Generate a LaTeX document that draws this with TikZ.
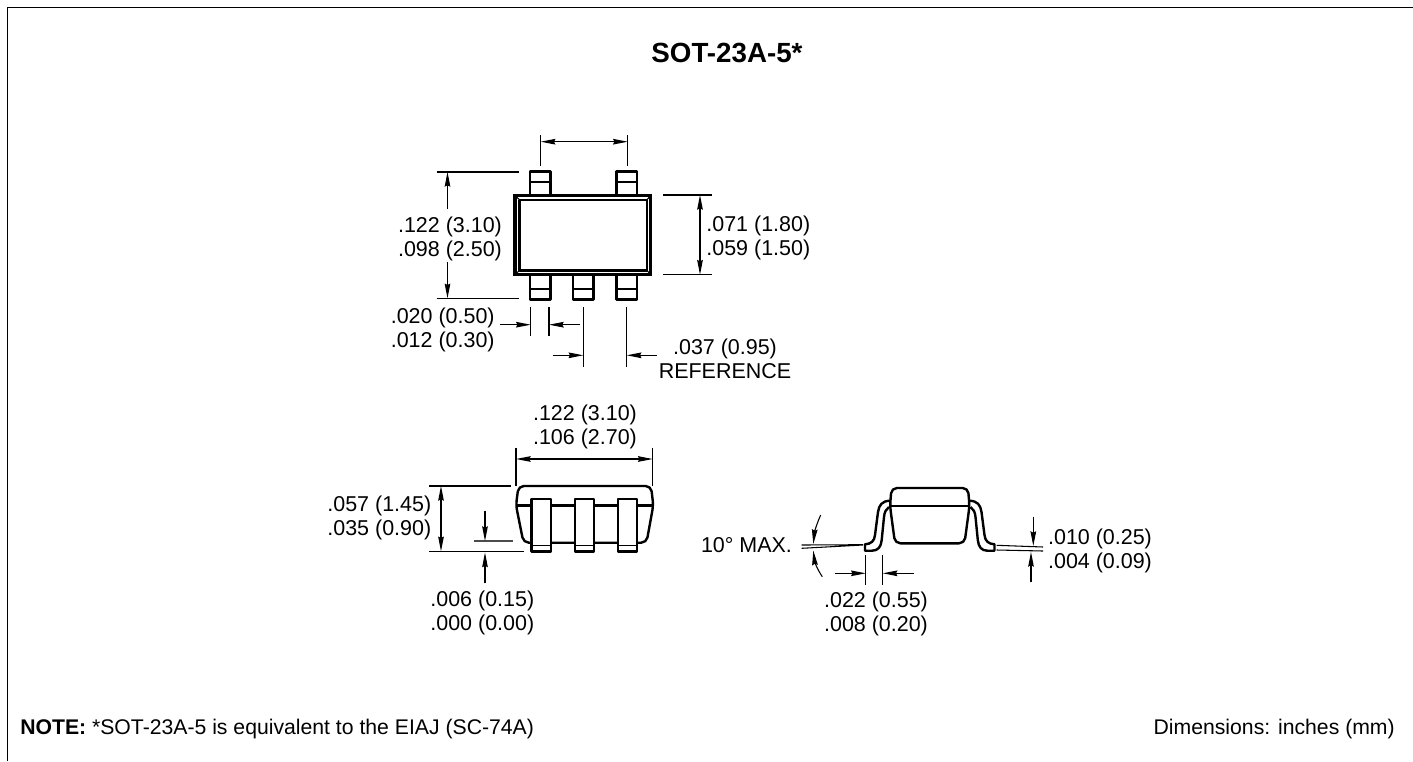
\documentclass[tikz,border=0pt]{standalone}
\usepackage{fontspec}
\setmainfont{Liberation Sans}
\usetikzlibrary{arrows.meta}
\tikzset{
  dimline/.style={line width=0.8pt},
  dimarrow/.style={line width=0.8pt,-{Stealth[length=11pt,width=4.2pt,inset=1pt]}},
  outline/.style={line width=1.8pt,line join=round},
  leadbox/.style={outline,fill=white},
  dimtext/.style={inner sep=0pt,align=center,font=\fontsize{16.1}{18}\selectfont},
}
\begin{document}
\begin{tikzpicture}[x=0.75pt,y=0.75pt,yscale=-1,xscale=1]
\path[use as bounding box] (0,0) rectangle (1413,761);

%Frame
\draw [line width=1.1pt] (7.5,761) -- (7.5,7.5) -- (1413,7.5);

%Titles
\node (title) at (727,53) [inner sep=0pt,font=\fontsize{20.8}{24}\selectfont\bfseries] {SOT-23A-5*};
\node (note) at (20,729) [anchor=west,inner sep=0pt,font=\fontsize{15.9}{18}\selectfont] {\textbf{NOTE:} *SOT-23A-5 is equivalent to the EIAJ (SC-74A)};
\node (units) at (1395,729) [anchor=east,inner sep=0pt,font=\fontsize{15.9}{18}\selectfont] {Dimensions: inches (mm)};

%Top view leads
\foreach \leadx in {530,616.5} {
  \draw [outline] (\leadx,194) -- (\leadx,171.5) -- (\leadx+20.5,171.5) -- (\leadx+20.5,194);
  \draw [outline] (\leadx,182) -- (\leadx+20.5,182);
}
\foreach \leadx in {530,573,616.5} {
  \draw [outline] (\leadx,276) -- (\leadx,299.5) -- (\leadx+20.5,299.5) -- (\leadx+20.5,276);
  \draw [outline] (\leadx,289) -- (\leadx+20.5,289);
}
%Top view body
\draw [line width=2.6pt] (515,195.5) rectangle (650.7,274.3);
\draw [outline] (519.5,199.7) rectangle (647,270.5);
\draw [dimline] (515,195.5) -- (519.5,199.7) (650.7,195.5) -- (647,199.7) (515,274.3) -- (519.5,270.5) (650.7,274.3) -- (647,270.5);

%Top view dimensions
\draw [dimline] (540.7,135) -- (540.7,166) (627.7,135) -- (627.7,166);
\draw [dimarrow] (584,141.7) -- (540.7,141.7);
\draw [dimarrow] (584,141.7) -- (627.7,141.7);
\draw [dimline] (436.7,172) -- (518.7,172) (436.7,298.3) -- (518.7,298.3);
\draw [dimarrow] (447.5,209) -- (447.5,172);
\draw [dimarrow] (447.5,261.5) -- (447.5,298.3);
\node (toplen) at (450,238.7) [dimtext] {.122 (3.10)\\.098 (2.50)};
\draw [dimline] (663.3,195) -- (711.7,195) (663.3,274.7) -- (711.7,274.7);
\draw [dimarrow] (700,235) -- (700,195);
\draw [dimarrow] (700,235) -- (700,274.7);
\node (topwid) at (758.3,238) [dimtext] {.071 (1.80)\\.059 (1.50)};
\draw [dimline] (530.7,307.3) -- (530.7,336) (549,307.3) -- (549,336);
\draw [dimline] (583.3,307.3) -- (583.3,366.7) (626.7,307.3) -- (626.7,366.7);
\draw [dimarrow] (500,324.7) -- (530.7,324.7);
\draw [dimarrow] (580,324.7) -- (549,324.7);
\draw [dimarrow] (552.7,355.3) -- (583.3,355.3);
\draw [dimarrow] (657,355.3) -- (626.7,355.3);
\node (leadwid) at (442.7,330) [dimtext] {.020 (0.50)\\.012 (0.30)};
\node (pitch) at (725,359) [dimtext] {.037 (0.95)\\REFERENCE};

%Side view body
\draw [outline,rounded corners=4pt] (516,505.3) -- (518.5,486) -- (651,486) -- (653.3,505.3) -- (646.5,542.7) -- (523.5,542.7) -- cycle;
\draw [outline] (516,505.3) -- (653.3,505.3);
%Side view leads
\foreach \leadx in {531.5,574.7,618} {
  \draw [leadbox] (\leadx,499) rectangle (\leadx+19.2,551.5);
  \draw [line width=1pt] (\leadx,545.7) -- (\leadx+19.2,545.7);
}

%Side view dimensions
\draw [dimline] (516,447.7) -- (516,486) (652.7,447.7) -- (652.7,486);
\draw [dimarrow] (584,459) -- (516,459);
\draw [dimarrow] (584,459) -- (652.7,459);
\node (sidelen) at (585,427.4) [dimtext] {.122 (3.10)\\.106 (2.70)};
\draw [dimline] (429.3,486) -- (510.7,486) (429.3,551.3) -- (524.3,551.3);
\draw [dimarrow] (441,518) -- (441,486);
\draw [dimarrow] (441,518) -- (441,551.3);
\node (sidehgt) at (379.3,518) [dimtext] {.057 (1.45)\\.035 (0.90)};
\draw [line width=1.2pt,black!70] (474.3,541) -- (512.7,541);
\draw [dimarrow] (485,510.7) -- (485,541);
\draw [dimarrow] (485,583.3) -- (485,552.5);
\node (standoff) at (482.3,612.5) [dimtext] {.006 (0.15)\\.000 (0.00)};

%End view leads
\draw [outline] (890,500.7) .. controls (882,501) and (879,505) .. (878,512) -- (875,535) .. controls (874.5,541) and (871,544) .. (865,544.3) -- (865,550.7) -- (872,550.7) .. controls (878,550.7) and (881,547) .. (881.7,540) -- (884,517) .. controls (884.5,512) and (886,509) .. (889,507);
\draw [outline] (969.5,500.7) .. controls (977.5,501) and (980.5,505) .. (981.5,512) -- (984.5,535) .. controls (985,541) and (988.5,544) .. (994.5,544.3) -- (994.5,550.7) -- (987.5,550.7) .. controls (981.5,550.7) and (978.5,547) .. (977.8,540) -- (975.5,517) .. controls (975,512) and (973.5,509) .. (970.5,507);
%End view body
\draw [outline,rounded corners=4pt] (890,506) -- (891.5,488) -- (968,488) -- (969.5,506) -- (964.5,543.3) -- (895,543.3) -- cycle;
\draw [outline] (890,506) -- (969.5,506);

%End view dimensions
\draw [dimline] (801.7,545) -- (863,544.7) (801.7,548.3) -- (863,545);
\draw [dimarrow] (820.7,515) .. controls (817,523) and (814.5,532) .. (813.3,544);
\draw [dimarrow] (822.3,576.7) .. controls (817,569) and (814.5,561) .. (813.3,550.5);
\node (angle) at (746.5,545) [dimtext] {10° MAX.};
\draw [dimline] (865.7,555) -- (865.7,585) (882.7,555) -- (882.7,585);
\draw [dimarrow] (835,573.3) -- (865.7,573.3);
\draw [dimarrow] (914,573.3) -- (882.7,573.3);
\node (footlen) at (876,614) [dimtext] {.022 (0.55)\\.008 (0.20)};
\draw [dimline] (996.7,545.3) -- (1043,547) (996.7,550) -- (1043,551);
\draw [dimarrow] (1033.3,516.7) -- (1033.3,546);
\draw [dimarrow] (1031,582) -- (1031,552);
\node (leadthk) at (1100,551.3) [dimtext] {.010 (0.25)\\.004 (0.09)};
\end{tikzpicture}
\end{document}
